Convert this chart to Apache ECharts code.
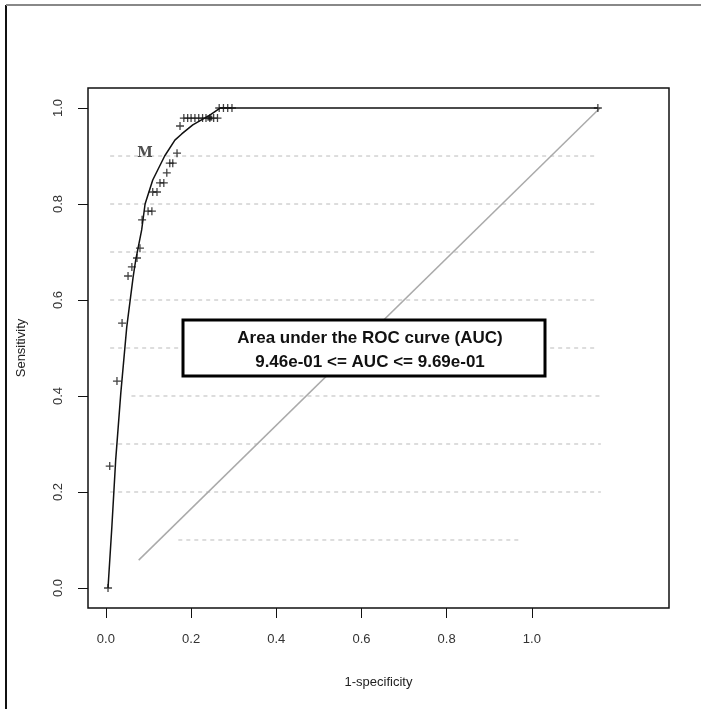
<!DOCTYPE html>
<html>
<head>
<meta charset="utf-8">
<script src="https://cdn.jsdelivr.net/npm/echarts@6/dist/echarts.min.js"></script>
<style>
  html, body { margin: 0; padding: 0; background: #fff; }
  #roc { width: 701px; height: 709px; }
</style>
</head>
<body>
<div id="roc"></div>
<script>
// ROC curve (1-specificity, sensitivity)
const curveX = [0.005, 0.014, 0.023, 0.035, 0.049, 0.064, 0.07, 0.084, 0.092, 0.11, 0.138, 0.162, 0.178, 0.204, 0.244, 0.268, 1.155];
const curveY = [0, 0.127, 0.267, 0.406, 0.544, 0.648, 0.683, 0.746, 0.8, 0.85, 0.9, 0.933, 0.946, 0.965, 0.985, 1.0, 1.0];

// cut-off points drawn as "+"
const pointX = [0.005, 0.009, 0.026, 0.038, 0.052, 0.061, 0.073, 0.08, 0.085, 0.099, 0.108, 0.11, 0.12, 0.127, 0.136,
  0.143, 0.15, 0.157, 0.167, 0.174,
  0.183, 0.192, 0.2, 0.209, 0.218, 0.227, 0.235, 0.244, 0.253, 0.262,
  0.266, 0.276, 0.286, 0.296, 1.155];
const pointY = [0, 0.254, 0.431, 0.552, 0.65, 0.669, 0.6875, 0.708, 0.767, 0.785, 0.785, 0.825, 0.825, 0.844, 0.844,
  0.865, 0.885, 0.885, 0.906, 0.9625,
  0.979, 0.979, 0.979, 0.979, 0.979, 0.979, 0.979, 0.979, 0.979, 0.979,
  1.0, 1.0, 1.0, 1.0, 1.0];

const bestPoint = [0.244, 0.979];
const markM = [0.092, 0.906];

// chance diagonal
const diagX = [0.077, 1.16];
const diagY = [0.058, 1.0];

// dotted reference levels
const guideY = [0.1, 0.2, 0.3, 0.4, 0.5, 0.6, 0.7, 0.8, 0.9];
const guideX0 = [0.17, 0.01, 0.01, 0.06, 0.01, 0.01, 0.01, 0.01, 0.01];
const guideX1 = [0.97, 1.162, 1.162, 1.162, 1.155, 1.155, 1.155, 1.155, 1.155];

const tickValues = [0, 0.2, 0.4, 0.6, 0.8, 1.0];
const aucLines = ['Area under the ROC curve (AUC)', '9.46e-01 <= AUC <= 9.69e-01'];

const zip = (a, b) => a.map((v, i) => [v, b[i]]);
const plus = 'path://M4.2,0h1.6v4.2h4.2v1.6h-4.2v4.2h-1.6v-4.2h-4.2v-1.6h4.2z';
const font = 'Liberation Sans, Arial, sans-serif';

const chart = echarts.init(document.getElementById('roc'));

const guideSeries = guideY.map((y, i) => ({
  type: 'line',
  data: [[guideX0[i], y], [guideX1[i], y]],
  symbol: 'none',
  silent: true,
  lineStyle: { color: '#bbb', width: 1, type: [4, 4] },
  z: 1
}));

const axisCommon = {
  type: 'value',
  axisLine: { show: false, onZero: false },
  splitLine: { show: false },
  axisTick: { show: true, inside: false, customValues: tickValues, length: 10, lineStyle: { color: '#111', width: 1 } },
  nameLocation: 'middle',
  nameTextStyle: { fontFamily: font, fontSize: 13, color: '#222' }
};

chart.setOption({
  animation: false,
  backgroundColor: '#fff',
  grid: {
    left: 88, top: 88, right: 32, bottom: 101,
    show: true, borderColor: '#111', borderWidth: 1.5,
    outerBoundsMode: 'none'
  },
  xAxis: Object.assign({}, axisCommon, {
    min: -0.042, max: 1.322,
    name: '1-specificity', nameGap: 68,
    axisLabel: { customValues: tickValues, margin: 25, fontFamily: font, fontSize: 13, color: '#333',
      formatter: v => v.toFixed(1) }
  }),
  yAxis: Object.assign({}, axisCommon, {
    min: -0.0417, max: 1.0417,
    name: 'Sensitivity', nameGap: 60,
    axisLabel: { customValues: tickValues, margin: 23, rotate: 90, fontFamily: font, fontSize: 13, color: '#333',
      formatter: v => v.toFixed(1) }
  }),
  series: guideSeries.concat([
    {
      type: 'line',
      data: zip(diagX, diagY),
      symbol: 'none',
      lineStyle: { color: '#aaa', width: 1.5 },
      z: 2
    },
    {
      type: 'line',
      data: zip(curveX, curveY),
      symbol: 'none',
      lineStyle: { color: '#111', width: 1.5 },
      z: 3
    },
    {
      type: 'scatter',
      data: zip(pointX, pointY),
      symbol: plus,
      symbolSize: 8,
      itemStyle: { color: '#111' },
      z: 4
    },
    {
      type: 'scatter',
      data: [bestPoint],
      symbol: 'rect',
      symbolSize: 5,
      itemStyle: { color: '#111' },
      z: 4
    },
    {
      type: 'scatter',
      data: [markM],
      symbolSize: 0,
      label: {
        show: true, position: 'inside', formatter: 'M',
        fontFamily: 'DejaVu Serif, Liberation Serif, serif', fontWeight: 'bold', fontSize: 14, color: '#222'
      },
      z: 5
    }
  ]),
  graphic: [
    { type: 'line', shape: { x1: 6, y1: 5, x2: 6, y2: 709 }, style: { stroke: '#111', lineWidth: 2 }, z: 100 },
    { type: 'line', shape: { x1: 6, y1: 5, x2: 701, y2: 5 }, style: { stroke: '#888', lineWidth: 2 }, z: 100 },
    {
      type: 'rect', shape: { x: 183, y: 320, width: 362, height: 56 },
      style: { fill: '#fff', stroke: '#000', lineWidth: 3 }, z: 100
    },
    {
      type: 'text', x: 370, y: 338, z: 101,
      style: { text: aucLines[0], fontFamily: font, fontWeight: 'bold', fontSize: 17, fill: '#111',
        align: 'center', verticalAlign: 'middle' }
    },
    {
      type: 'text', x: 370, y: 362, z: 101,
      style: { text: aucLines[1], fontFamily: font, fontWeight: 'bold', fontSize: 17, fill: '#111',
        align: 'center', verticalAlign: 'middle' }
    }
  ]
});
</script>
</body>
</html>
